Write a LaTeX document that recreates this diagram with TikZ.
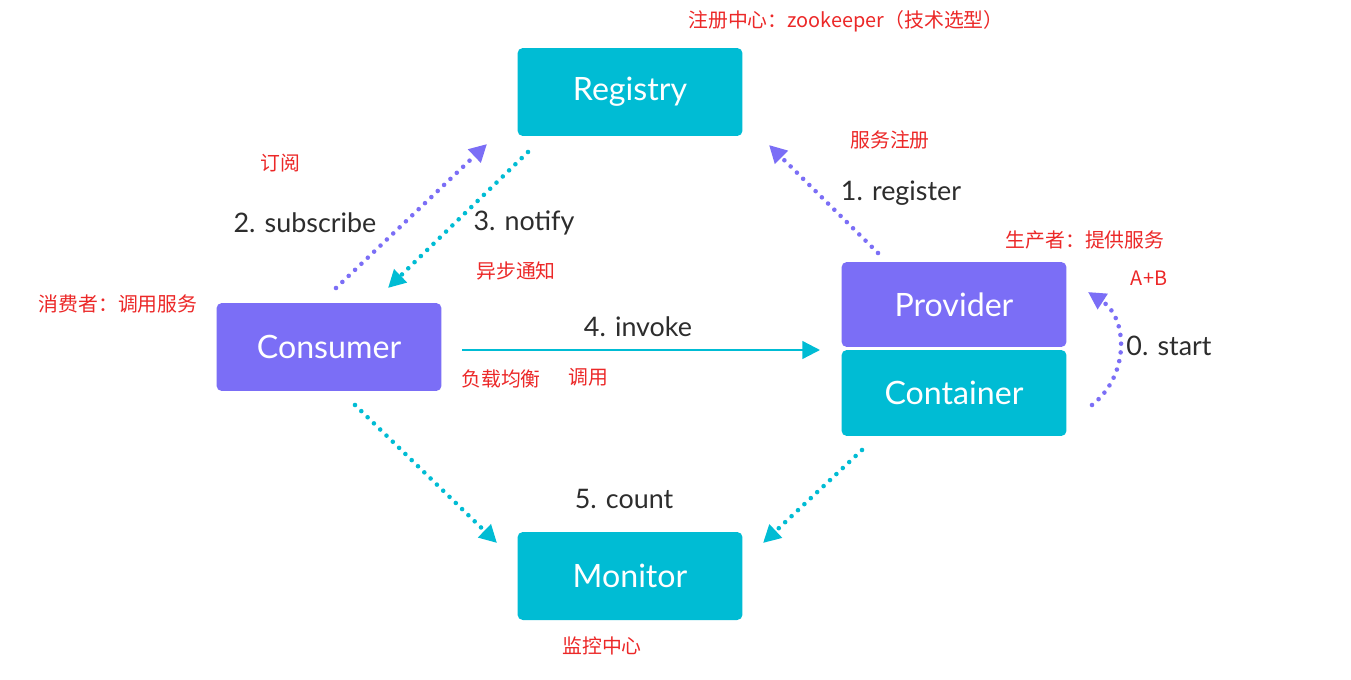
\documentclass[tikz,border=0pt]{standalone}
\usepackage{fontspec}
\setmainfont{Lato}
\newfontfamily\cjk{Noto Sans CJK SC}
\usetikzlibrary{arrows.meta, positioning}
\definecolor{dubcyan}{RGB}{0,188,212}
\definecolor{dubpurple}{RGB}{123,110,246}
\definecolor{notered}{RGB}{236,40,40}
\definecolor{labelgray}{RGB}{45,45,45}

\begin{document}
\begin{tikzpicture}[x=0.02cm, y=-0.02cm,
    box/.style={rounded corners=3pt, minimum width=4.5cm, minimum height=1.76cm, text=white, font=\fontsize{18.3}{20}\selectfont},
    step label/.style={text=labelgray, font=\fontsize{15.3}{17}\selectfont},
    note/.style={text=notered, font=\cjk\fontsize{11.3}{13}\selectfont},
    dotline/.style={line width=2.6pt, line cap=round, dash pattern=on 0pt off 5pt, -{Triangle[length=10pt, width=10pt]}}]
    \useasboundingbox[fill=white] (0,0) rectangle (1351,679);

    % Nodes
    \node[box, fill=dubcyan] (registry) at (630,92) {Registry};
    \node[box, fill=dubpurple] (consumer) at (329,347) {Consumer};
    \node[box, fill=dubpurple, minimum height=1.7cm] (provider) at (954,304.5) {Provider};
    \node[box, fill=dubcyan, minimum height=1.72cm] (container) at (954,393) {Container};
    \node[box, fill=dubcyan] (monitor) at (630,576) {Monitor};

    % Connector ends
    \coordinate (sub_a) at (336,288);
    \coordinate (sub_b) at (487,144);
    \coordinate (ntf_a) at (528,152);
    \coordinate (ntf_b) at (388,288);
    \coordinate (reg_a) at (878,253);
    \coordinate (reg_b) at (769,145);
    \coordinate (inv_a) at (462,350);
    \coordinate (inv_b) at (820,350);
    \coordinate (cnt_a) at (355,405);
    \coordinate (cnt_b) at (497,543);
    \coordinate (cnt_c) at (862,450);
    \coordinate (cnt_d) at (763,543);
    \coordinate (st_a) at (1092,405);
    \coordinate (st_b) at (1088,292);

    % Connectors
    \draw[dotline, dubpurple] (sub_a) -- (sub_b);
    \draw[dotline, dubcyan] (ntf_a) -- (ntf_b);
    \draw[dotline, dubpurple] (reg_a) -- (reg_b);
    \draw[line width=1.3pt, dubcyan, -{Triangle[length=10pt, width=10pt]}] (inv_a) -- (inv_b);
    \draw[dotline, dubcyan] (cnt_a) -- (cnt_b);
    \draw[dotline, dubcyan] (cnt_c) -- (cnt_d);
    \draw[dotline, dubpurple] (st_a) .. controls (1130,375) and (1128,318) .. (st_b);

    % Step labels
    \node[step label] (l_sub) at (305,223) {2. subscribe};
    \node[step label] (l_ntf) at (524,223) {3. notify};
    \node[step label] (l_reg) at (901,193) {1. register};
    \node[step label] (l_inv) at (638,327) {4. invoke};
    \node[step label] (l_cnt) at (624,499) {5. count};
    \node[step label] (l_st) at (1169,346) {0. start};

    % Notes
    \node[note] (n_top) at (846,21) {注册中心：zookeeper（技术选型）};
    \node[note] (n_reg) at (890,140) {服务注册};
    \node[note] (n_sub) at (280,163) {订阅};
    \node[note] (n_ntf) at (516,271) {异步通知};
    \node[note] (n_prov) at (1085,240) {生产者：提供服务};
    \node[note] (n_ab) at (1149,278) {A+B};
    \node[note] (n_cons) at (118,304) {消费者：调用服务};
    \node[note] (n_lb) at (501,379) {负载均衡};
    \node[note] (n_call) at (588,377) {调用};
    \node[note] (n_mon) at (602,646) {监控中心};
\end{tikzpicture}
\end{document}
